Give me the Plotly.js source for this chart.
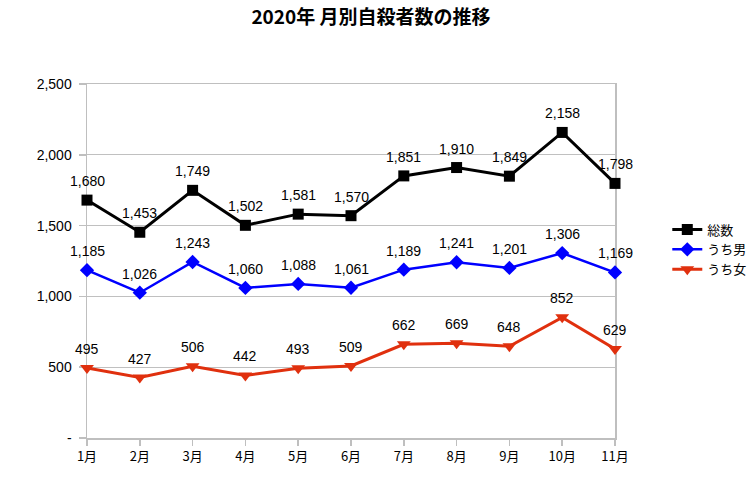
<!DOCTYPE html>
<html>
<head>
<meta charset="utf-8">
<script src="https://cdn.plot.ly/plotly-3.0.1.min.js"></script>
<style>html,body{margin:0;padding:0;background:#fff;}#chart{width:754px;height:499px;}</style>
</head>
<body>
<div id="chart"></div>
<script>
const months = ['1月','2月','3月','4月','5月','6月','7月','8月','9月','10月','11月'];
const total = [1680,1453,1749,1502,1581,1570,1851,1910,1849,2158,1798];
const male = [1185,1026,1243,1060,1088,1061,1189,1241,1201,1306,1169];
const female = [495,427,506,442,493,509,662,669,648,852,629];
const yTickVals = [0,500,1000,1500,2000,2500];
const yTickText = ['-','500','1,000','1,500','2,000','2,500'];
const seriesNames = ['総数','うち男','うち女'];

const numFont = {family:'Liberation Sans, Arial, sans-serif', size:14, color:'#000'};
function mk(name, y, color, symbol, size, width){
  return {
    x: months, y: y, name: name, type:'scatter', mode:'lines+markers',
    line:{color:color, width:width},
    marker:{color:color, symbol:symbol, size:size},
    cliponaxis:false, hoverinfo:'none'
  };
}
const data = [
  mk(seriesNames[0], total, '#000000', 'square', 11, 3),
  mk(seriesNames[1], male, '#0000ff', 'diamond', 11, 2.5),
  mk(seriesNames[2], female, '#e0300e', 'triangle-down', 12, 3)
];
const annotations = [];
[total, male, female].forEach(function(series){
  series.forEach(function(v, i){
    annotations.push({x: months[i], y: v, xref:'x', yref:'y', text: v.toLocaleString('en-US'),
      showarrow:false, yshift:19, font:numFont});
  });
});
const layout = {
  width:754, height:499,
  margin:{l:87, r:139, t:84, b:61},
  paper_bgcolor:'#fff', plot_bgcolor:'#fff',
  title:{text:'2020年 月別自殺者数の推移', x:0.492, xanchor:'center', y:0.966, yanchor:'middle',
         font:{family:'Noto Sans CJK JP, sans-serif', size:19, color:'#000', weight:'bold'}},
  xaxis:{type:'category', range:[0,10], showgrid:false, showline:true, linecolor:'#bfbfbf', linewidth:1.5,
         mirror:true, ticks:'outside', ticklen:6, tickcolor:'#bfbfbf', tickwidth:1.5, layer:'below traces',
         tickfont:{family:'Noto Sans CJK JP, sans-serif', size:13, color:'#000'}, zeroline:false, fixedrange:true},
  yaxis:{range:[0,2500], tickvals:yTickVals, ticktext:yTickText, showgrid:true, gridcolor:'#c0c0c0', gridwidth:1,
         showline:true, linecolor:'#bfbfbf', linewidth:1.5, mirror:true, ticks:'outside', ticklen:7,
         tickcolor:'#bfbfbf', tickwidth:1.5, ticklabelstandoff:4, layer:'below traces',
         tickfont:numFont, zeroline:false, fixedrange:true},
  annotations: annotations,
  showlegend:true,
  legend:{xref:'container', yref:'container', x:0.885, xanchor:'left', y:0.5, yanchor:'middle',
          bgcolor:'rgba(0,0,0,0)',
          font:{family:'Noto Sans CJK JP, sans-serif', size:13, color:'#000'},
          itemwidth:30, tracegroupgap:0}
};
Plotly.newPlot('chart', data, layout, {displayModeBar:false, staticPlot:true});
</script>
</body>
</html>
